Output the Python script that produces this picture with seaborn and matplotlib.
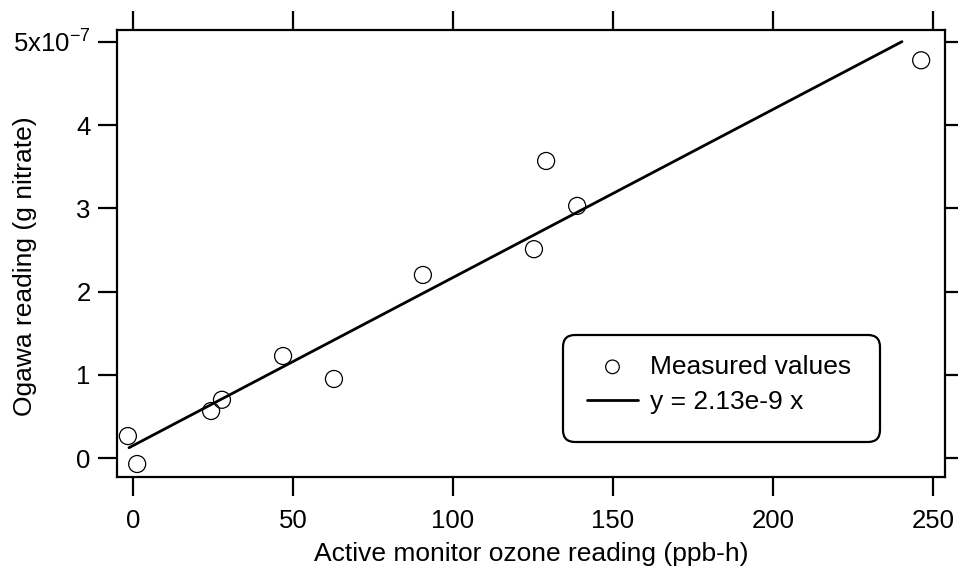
import matplotlib
matplotlib.use("Agg")
import matplotlib.pyplot as plt
from matplotlib.patches import FancyBboxPatch
import seaborn as sns
import pandas as pd

# Data
ozone_ppbh = [-1.6, 1.3, 24.4, 27.8, 46.9, 62.8, 90.6, 125.3, 129.1, 138.8, 246.3]
ogawa_g = [0.264e-7, -0.072e-7, 0.565e-7, 0.70e-7, 1.226e-7, 0.95e-7, 2.2e-7, 2.51e-7, 3.57e-7, 3.03e-7, 4.78e-7]
fit_x = [-1.25, 240.3]
fit_y = [0.124e-7, 5.004e-7]
x_ticks = [0, 50, 100, 150, 200, 250]
y_ticks = [0, 1e-7, 2e-7, 3e-7, 4e-7, 5e-7]
y_tick_labels = ["0", "1", "2", "3", "4", "5x10$^{-7}$"]

sns.set_style("ticks")
plt.rcParams["font.family"] = ["Liberation Sans", "DejaVu Sans"]
plt.rcParams["mathtext.default"] = "regular"
for k in ["text.color", "axes.labelcolor", "xtick.color", "ytick.color", "axes.edgecolor"]:
    plt.rcParams[k] = "black"

pts = pd.DataFrame({"x": ozone_ppbh, "y": ogawa_g})
fit = pd.DataFrame({"x": fit_x, "y": fit_y})

fig = plt.figure(figsize=(9.58, 5.71), dpi=100)
ax = fig.add_axes([117/958, 1-477/571, (945-117)/958, (477-30)/571])

sns.lineplot(data=fit, x="x", y="y", ax=ax, color="black", lw=2.0,
             label="y = 2.13e-9 x")
sns.scatterplot(data=pts, x="x", y="y", ax=ax, marker="o", s=150,
                facecolor="none", edgecolor="black", linewidth=0.9,
                label="Measured values")

ax.set_xlim(-5, 253.75)
ax.set_ylim(-0.228e-7, 5.144e-7)
ax.set_xticks(x_ticks)
ax.set_xticklabels([str(v) for v in x_ticks])
ax.set_yticks(y_ticks)
ax.set_yticklabels(y_tick_labels)

for s in ax.spines.values():
    s.set_linewidth(1.6)
    s.set_color("black")
ax.tick_params(axis="both", which="major", direction="out", length=14, width=1.6,
               top=True, right=True, labelsize=18.5, pad=5, color="black")
ax.tick_params(axis="x", pad=9)

ax.set_xlabel("Active monitor ozone reading (ppb-h)", fontsize=19)
ax.xaxis.set_label_coords(0.5, -0.146)
ax.set_ylabel("Ogawa reading (g nitrate)", fontsize=19)
ax.yaxis.set_label_coords(-0.0966, 0.472)

# legend frame (rounded box, drawn in figure inches)
box = FancyBboxPatch((5.63, 1.29), 3.17, 1.07,
                     boxstyle="round,pad=0,rounding_size=0.12",
                     transform=fig.dpi_scale_trans, facecolor="white",
                     edgecolor="black", linewidth=1.6, zorder=4)
ax.add_patch(box)

handles, labels = ax.get_legend_handles_labels()
order = [labels.index("Measured values"), labels.index("y = 2.13e-9 x")]
leg = ax.legend([handles[i] for i in order], [labels[i] for i in order],
                loc="upper left", bbox_to_anchor=(0.5386 + 4/828, 0.3177),
                borderaxespad=0, fontsize=19, frameon=False,
                handlelength=1.95, handletextpad=0.45, borderpad=0.75,
                labelspacing=0.44, markerscale=0.8)
leg.set_zorder(5)

fig.savefig("out.png", dpi=100)
